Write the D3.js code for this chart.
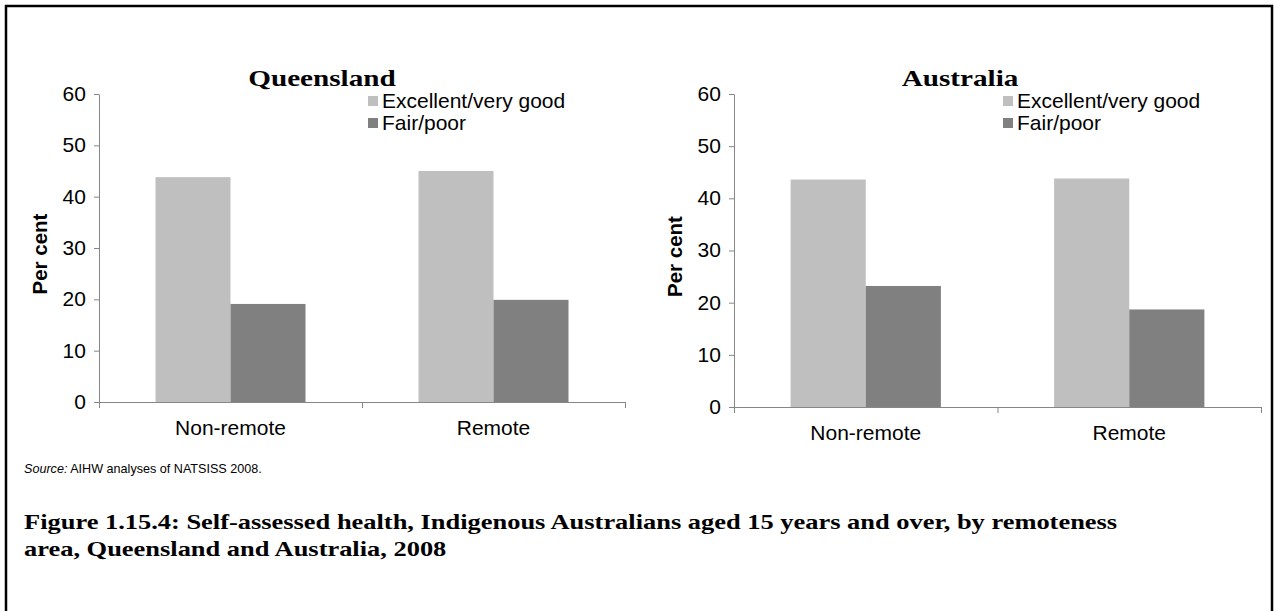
<!DOCTYPE html>
<html>
<head>
<meta charset="utf-8">
<script src="https://cdn.jsdelivr.net/npm/d3@7"></script>
<style>
  body { margin: 0; background: #fff; }
  text { font-family: "Liberation Sans", Arial, sans-serif; fill: #000; }
  .serif { font-family: "Palatino Linotype", "Book Antiqua", Palatino, "Liberation Serif", serif; font-weight: bold; }
</style>
</head>
<body>
<div id="chart"></div>
<script>
var svgWidth = 1276;
var svgHeight = 611;

// Data
var categories = ["Non-remote", "Remote"];
var seriesNames = ["Excellent/very good", "Fair/poor"];
var qldExcellent = [43.8, 45.0];
var qldFairPoor = [19.1, 19.9];
var ausExcellent = [43.6, 43.8];
var ausFairPoor = [23.2, 18.7];
var yTicks = [0, 10, 20, 30, 40, 50, 60];

var colors = ["#bfbfbf", "#808080"];
var sansStretch = 1.05;
var serifStretch = 1.23;

var svg = d3.select("#chart")
  .append("svg")
  .attr("width", svgWidth)
  .attr("height", svgHeight);

// Outer frame
svg.append("rect")
  .attr("x", 6)
  .attr("y", 6)
  .attr("width", 1266)
  .attr("height", 640)
  .attr("fill", "none")
  .attr("stroke", "#000")
  .attr("stroke-width", 2.5);

function drawPanel(p) {
  var rows = categories.map(function(c, i) {
    return { cat: c, values: [p.excellent[i], p.fairPoor[i]] };
  });

  var x0 = d3.scaleBand()
    .domain(categories)
    .range([p.left, p.right]);

  var groupW = x0.bandwidth() * 150 / 263;
  var x1 = d3.scaleBand()
    .domain(seriesNames)
    .range([0, groupW]);

  var y = d3.scaleLinear()
    .domain([0, 60])
    .range([p.bottom, p.top]);

  // Bars
  var groups = svg.append("g")
    .selectAll("g")
    .data(rows)
    .enter()
    .append("g")
    .attr("transform", d => `translate(${x0(d.cat) + (x0.bandwidth() - groupW) / 2}, 0)`);

  groups.selectAll("rect")
    .data(d => d.values.map((v, i) => ({ key: seriesNames[i], value: v })))
    .enter()
    .append("rect")
    .attr("x", d => x1(d.key))
    .attr("y", d => y(d.value))
    .attr("width", x1.bandwidth())
    .attr("height", d => y(0) - y(d.value))
    .attr("fill", (d, i) => colors[i]);

  // Y axis
  var leftAxis = d3.axisLeft(y)
    .tickValues(yTicks)
    .tickSize(5)
    .tickSizeOuter(0)
    .tickPadding(7.5);

  var ya = svg.append("g")
    .attr("transform", `translate(${p.left}, 0)`)
    .call(leftAxis);
  ya.selectAll("text")
    .attr("font-size", "20px")
    .attr("font-family", "Liberation Sans, Arial, sans-serif")
    .attr("transform", `scale(${sansStretch}, 1)`);
  ya.selectAll("line, path").attr("stroke", "#868686");

  // X axis: line with ticks at the category boundaries
  var xb = d3.scaleLinear().domain([0, categories.length]).range([p.left, p.right]);
  var bottomAxis = d3.axisBottom(xb)
    .tickValues(d3.range(categories.length + 1))
    .tickFormat("")
    .tickSize(6)
    .tickSizeOuter(0);
  var xa = svg.append("g")
    .attr("transform", `translate(0, ${p.bottom})`)
    .call(bottomAxis);
  xa.selectAll("line, path").attr("stroke", "#868686");

  // Category labels
  svg.append("g")
    .selectAll("text")
    .data(categories)
    .enter()
    .append("text")
    .attr("text-anchor", "middle")
    .attr("font-size", "20px")
    .attr("transform", d => `translate(${x0(d) + x0.bandwidth() / 2}, ${p.bottom + 33}) scale(${sansStretch}, 1)`)
    .text(d => d);

  // Y axis title
  svg.append("text")
    .attr("transform", `translate(${p.left - 52}, ${(p.top + p.bottom) / 2 + 6}) rotate(-90)`)
    .attr("text-anchor", "middle")
    .attr("font-size", "20.5px")
    .attr("font-weight", "bold")
    .text("Per cent");

  // Panel title
  svg.append("text")
    .attr("class", "serif")
    .attr("text-anchor", "middle")
    .attr("font-size", "23px")
    .attr("transform", `translate(${p.titleX}, 86) scale(1.27, 1)`)
    .text(p.title);

  // Legend
  var legend = svg.append("g")
    .attr("transform", `translate(${p.left + 269}, 96)`);
  var items = legend.selectAll("g")
    .data(seriesNames)
    .enter()
    .append("g")
    .attr("transform", (d, i) => `translate(0, ${i * 22})`);
  items.append("rect")
    .attr("width", 10)
    .attr("height", 10)
    .attr("fill", (d, i) => colors[i]);
  items.append("text")
    .attr("font-size", "20px")
    .attr("transform", `translate(14, 12) scale(${sansStretch}, 1)`)
    .text(d => d);
}

drawPanel({
  title: "Queensland",
  excellent: qldExcellent,
  fairPoor: qldFairPoor,
  left: 99, right: 625, top: 94, bottom: 402,
  titleX: 322
});

drawPanel({
  title: "Australia",
  excellent: ausExcellent,
  fairPoor: ausFairPoor,
  left: 734, right: 1261, top: 94, bottom: 407,
  titleX: 960
});

// Source note
var source = svg.append("text")
  .attr("x", 24)
  .attr("y", 473)
  .attr("font-size", "12.6px");
source.append("tspan").attr("font-style", "italic").text("Source:");
source.append("tspan").text(" AIHW analyses of NATSISS 2008.");

// Figure caption
var caption = ["Figure 1.15.4: Self-assessed health, Indigenous Australians aged 15 years and over, by remoteness",
  "area, Queensland and Australia, 2008"];
svg.append("g")
  .selectAll("text")
  .data(caption)
  .enter()
  .append("text")
  .attr("class", "serif")
  .attr("font-size", "21.5px")
  .attr("transform", (d, i) => `translate(24, ${529 + i * 26.5}) scale(${serifStretch}, 1)`)
  .text(d => d);
</script>
</body>
</html>
